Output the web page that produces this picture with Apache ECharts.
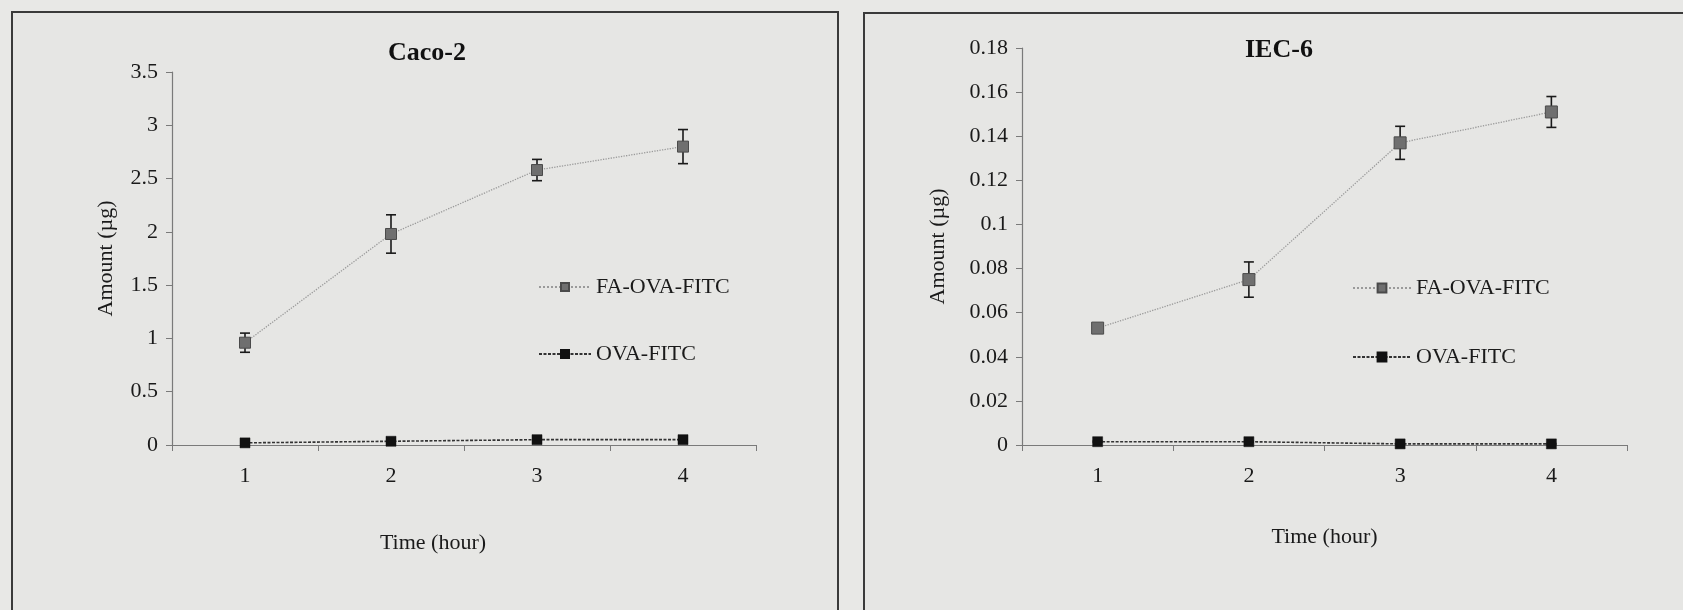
<!DOCTYPE html>
<html>
<head>
<meta charset="utf-8">
<script src="https://cdn.jsdelivr.net/npm/echarts/dist/echarts.min.js"></script>
<style>
  html, body { margin: 0; padding: 0; background: #e8e8e6; }
  #chart { width: 1683px; height: 610px; }
</style>
</head>
<body>
<div id="chart"></div>
<script>
// time points (hour)
const hours = ["1", "2", "3", "4"];

// Caco-2 uptake (µg)
const cacoFA = [0.96, 1.98, 2.58, 2.8];
const cacoFAErr = [0.09, 0.18, 0.1, 0.16];
const cacoOVA = [0.02, 0.035, 0.05, 0.05];
const cacoOVAErr = [0.01, 0.012, 0.015, 0.015];

// IEC-6 uptake (µg)
const iecFA = [0.053, 0.075, 0.137, 0.151];
const iecFAErr = [0.001, 0.008, 0.0075, 0.007];
const iecOVA = [0.0015, 0.0015, 0.0005, 0.0005];
const iecOVAErr = [0.0003, 0.0003, 0.0002, 0.0002];

const font = "Liberation Serif";
const ink = "#1a1a1a";
const axisGray = "#7a7a7a";

function errData(vals, errs) {
  return vals.map((v, i) => [i, v - errs[i], v + errs[i]]);
}

function errSeries(vals, errs, axisIdx) {
  return {
    type: "custom",
    xAxisIndex: axisIdx,
    yAxisIndex: axisIdx,
    z: 1,
    silent: true,
    data: errData(vals, errs),
    renderItem: (params, api) => {
      const lo = api.coord([api.value(0), api.value(1)]);
      const hi = api.coord([api.value(0), api.value(2)]);
      const cap = 5;
      const style = { stroke: "#1a1a1a", lineWidth: 1.6 };
      return {
        type: "group",
        children: [
          { type: "line", shape: { x1: hi[0], y1: hi[1], x2: lo[0], y2: lo[1] }, style },
          { type: "line", shape: { x1: hi[0] - cap, y1: hi[1], x2: hi[0] + cap, y2: hi[1] }, style },
          { type: "line", shape: { x1: lo[0] - cap, y1: lo[1], x2: lo[0] + cap, y2: lo[1] }, style },
        ],
      };
    },
  };
}

function faSeries(vals, axisIdx, size) {
  return {
    name: "FA-OVA-FITC",
    type: "line",
    xAxisIndex: axisIdx,
    yAxisIndex: axisIdx,
    z: 3,
    data: vals,
    symbol: "rect",
    symbolSize: size,
    lineStyle: { color: "#9a9a9a", width: 1.3, type: "dotted" },
    itemStyle: { color: "#6f6f6f", borderColor: "#4a4a4a", borderWidth: 1 },
  };
}

function ovaSeries(vals, axisIdx) {
  return {
    name: "OVA-FITC",
    type: "line",
    xAxisIndex: axisIdx,
    yAxisIndex: axisIdx,
    z: 3,
    data: vals,
    symbol: "rect",
    symbolSize: 10,
    lineStyle: { color: "#333", width: 1.6, type: [3, 1.5] },
    itemStyle: { color: "#111", borderColor: "#111", borderWidth: 0.5 },
  };
}

function xAxisFor(gridIndex, namePad) {
  return {
    type: "category",
    gridIndex,
    data: hours,
    boundaryGap: true,
    name: "Time (hour)",
    nameLocation: "middle",
    nameGap: gridIndex === 0 ? 87 : 81,
    nameTextStyle: { fontFamily: font, fontSize: 22, color: ink, padding: namePad },
    axisLine: { show: true, lineStyle: { color: axisGray, width: 1.2 } },
    axisTick: { show: true, length: 6, inside: false, lineStyle: { color: axisGray } },
    axisLabel: { fontFamily: font, fontSize: 22, color: ink, margin: 20 },
    splitLine: { show: false },
  };
}

function yAxisFor(gridIndex, max, interval, gap) {
  return {
    type: "value",
    gridIndex,
    min: 0,
    max,
    interval,
    name: "Amount (µg)",
    nameLocation: "middle",
    nameGap: gap,
    nameTextStyle: { fontFamily: font, fontSize: 22, color: ink },
    axisLine: { show: true, lineStyle: { color: axisGray, width: 1.2 } },
    axisTick: { show: true, length: 6, lineStyle: { color: axisGray } },
    axisLabel: { fontFamily: font, fontSize: 22, color: ink, margin: 14 },
    splitLine: { show: false },
  };
}

const legendText = { fontFamily: font, fontSize: 22, color: ink, lineHeight: 24 };

const chart = echarts.init(document.getElementById("chart"), null, { renderer: "canvas" });

chart.setOption({
  backgroundColor: "#e8e8e6",
  animation: false,
  title: [
    {
      text: "Caco-2",
      left: 383,
      top: 35,
      textStyle: { fontFamily: font, fontSize: 26, fontWeight: "bold", color: "#111" },
    },
    {
      text: "IEC-6",
      left: 1240,
      top: 32,
      textStyle: { fontFamily: font, fontSize: 26, fontWeight: "bold", color: "#111" },
    },
  ],
  legend: [
    {
      orient: "vertical",
      left: 533,
      top: 270,
      itemWidth: 52,
      itemHeight: 10,
      itemGap: 43,
      selectedMode: false,
      textStyle: legendText,
      data: ["FA-OVA-FITC", "OVA-FITC"],
    },
    {
      orient: "vertical",
      left: 1347,
      top: 271,
      itemWidth: 58,
      itemHeight: 11,
      itemGap: 45,
      selectedMode: false,
      textStyle: legendText,
      data: ["FA-OVA-FITC", "OVA-FITC"],
    },
  ],
  grid: [
    { left: 172, top: 72, width: 584, height: 373, outerBoundsMode: "none" },
    { left: 1022, top: 48, width: 605, height: 397, outerBoundsMode: "none" },
  ],
  xAxis: [xAxisFor(0, [0, 62, 0, 0]), xAxisFor(1, [0, 0, 0, 0])],
  yAxis: [yAxisFor(0, 3.5, 0.5, 55), yAxisFor(1, 0.18, 0.02, 73)],
  graphic: [
    {
      type: "rect",
      shape: { x: 12, y: 12, width: 826, height: 620 },
      style: { fill: "#e6e6e4", stroke: "#3a3a3a", lineWidth: 2 },
      z: -10,
      silent: true,
    },
    {
      type: "rect",
      shape: { x: 864, y: 13, width: 840, height: 620 },
      style: { fill: "#e6e6e4", stroke: "#3a3a3a", lineWidth: 2 },
      z: -10,
      silent: true,
    },
  ],
  series: [
    errSeries(cacoFA, cacoFAErr, 0),
    errSeries(cacoOVA, cacoOVAErr, 0),
    faSeries(cacoFA, 0, 11),
    ovaSeries(cacoOVA, 0),
    errSeries(iecFA, iecFAErr, 1),
    errSeries(iecOVA, iecOVAErr, 1),
    faSeries(iecFA, 1, 12),
    ovaSeries(iecOVA, 1),
  ],
});
</script>
</body>
</html>
